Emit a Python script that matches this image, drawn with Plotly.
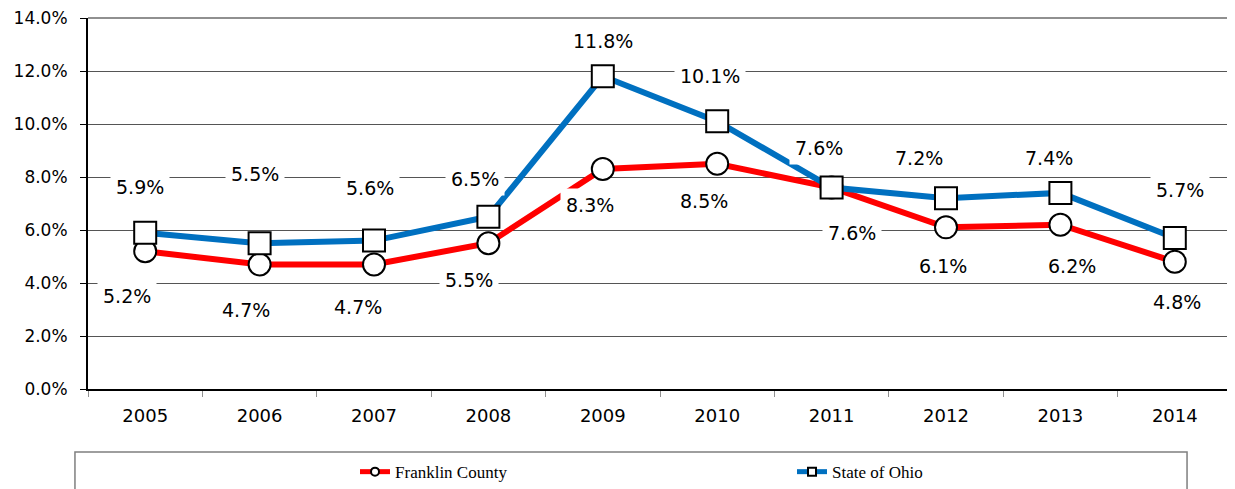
"""Unemployment rate: Franklin County vs State of Ohio"""
import plotly.graph_objects as go

years = ["2005", "2006", "2007", "2008", "2009", "2010", "2011", "2012", "2013", "2014"]
franklin = [0.052, 0.047, 0.047, 0.055, 0.083, 0.085, 0.076, 0.061, 0.062, 0.048]
ohio = [0.059, 0.055, 0.056, 0.065, 0.118, 0.101, 0.076, 0.072, 0.074, 0.057]

# label offsets in px (dx, dy), style only
franklin_off = [(-18, -45), (-14, -46), (-16, -43), (-19, -37), (-13, -36),
                (-13, -37), (20, -45), (-3, -39), (12, -41), (2, -40)]
ohio_off = [(-5, 46), (-5, 69), (-4, 53), (-13, 38), (0, 35),
            (-7, 45), (-13, 40), (-27, 40), (-11, 35), (5, 48)]

RED = "#FF0000"
BLUE = "#0070C0"
FONT = "DejaVu Sans"

fig = go.Figure()

series = [
    ("Franklin County", franklin, RED, "circle"),
    ("State of Ohio", ohio, BLUE, "square"),
]
for name, vals, col, sym in series:
    fig.add_trace(go.Scatter(
        x=years, y=vals, mode="lines+markers", name=name, showlegend=False,
        line=dict(color=col, width=6),
        marker=dict(symbol=sym, size=22, color="white",
                    line=dict(color="black", width=2)),
    ))
# legend-only entries with small markers
for name, vals, col, sym in series:
    fig.add_trace(go.Scatter(
        x=[None], y=[None], mode="lines+markers", name=name,
        line=dict(color=col, width=5),
        marker=dict(symbol=sym, size=8, color="white",
                    line=dict(color="black", width=2)),
    ))

# data labels with white boxes (x as category index)
for vals, offs in ((franklin, franklin_off), (ohio, ohio_off)):
    for i, (v, (dx, dy)) in enumerate(zip(vals, offs)):
        fig.add_annotation(
            x=i, y=v, text=f"{v * 100:.1f}%", showarrow=False,
            xshift=dx, yshift=dy, bgcolor="white", borderpad=5,
            font=dict(family=FONT, size=19, color="black"),
        )

# legend frame and grey plot borders
fig.add_shape(type="rect", xref="paper", yref="paper",
              x0=-0.0114, x1=0.9607, y0=-0.32, y1=-0.1698,
              line=dict(color="#7F7F7F", width=1.5), fillcolor="rgba(0,0,0,0)")
fig.add_shape(type="line", xref="paper", yref="paper",
              x0=1, x1=1, y0=0, y1=1, line=dict(color="#909090", width=2))
fig.add_shape(type="line", xref="paper", yref="paper",
              x0=0, x1=1, y0=1, y1=1, line=dict(color="#909090", width=2))

# page body has an 8px margin, so the figure is sized 8px smaller
fig.update_layout(
    width=1227, height=481,
    margin=dict(l=80, r=3, t=10, b=100, autoexpand=False),
    paper_bgcolor="white", plot_bgcolor="white",
    font=dict(family=FONT, size=17, color="black"),
    showlegend=True,
    legend=dict(
        orientation="h", x=0.2334, xanchor="left", y=-0.224, yanchor="middle",
        font=dict(family="Liberation Serif", size=17, color="black"),
        entrywidth=392, entrywidthmode="pixels",
        bgcolor="rgba(0,0,0,0)",
    ),
    xaxis=dict(
        type="category", range=[-0.5, 9.5], showgrid=False, showline=True,
        linecolor="black", linewidth=2,
        ticks="outside", tickson="boundaries", ticklen=6, tickcolor="#909090",
        tickfont=dict(family=FONT, size=18), tickangle=0,
        ticklabelstandoff=9, ticklabeloverflow="allow",
    ),
    yaxis=dict(
        range=[0, 0.14], dtick=0.02, tickformat=".1%",
        showgrid=True, gridcolor="#555555", gridwidth=1,
        showline=True, linecolor="black", linewidth=2,
        ticks="outside", ticklen=6, tickcolor="black",
        tickfont=dict(family=FONT, size=17),
        ticklabelstandoff=9, ticklabeloverflow="allow", zeroline=False,
    ),
)

fig.write_html("out.html")
